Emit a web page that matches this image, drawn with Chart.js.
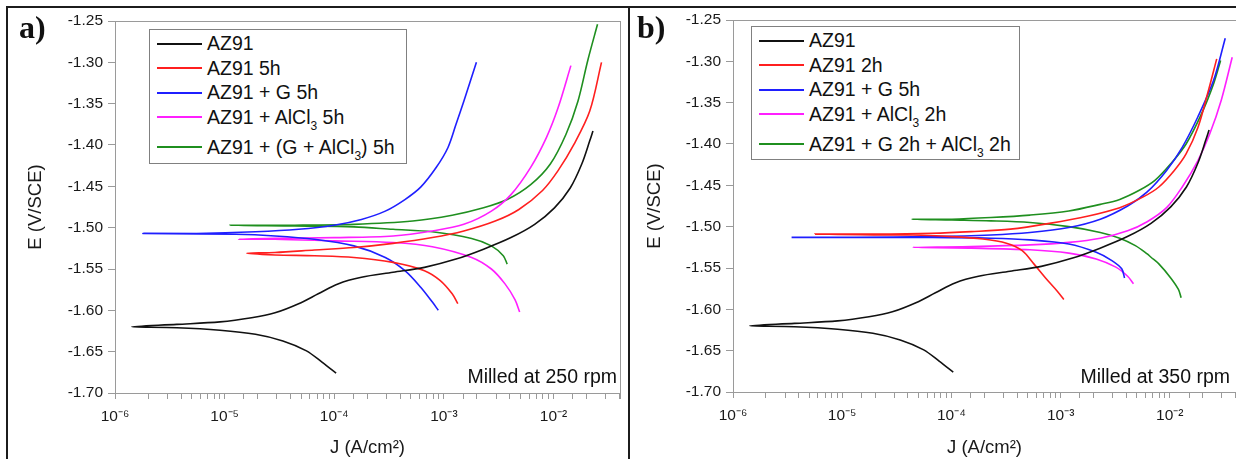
<!DOCTYPE html>
<html>
<head>
<meta charset="utf-8">
<script src="https://cdn.jsdelivr.net/npm/chart.js@4.4.1/dist/chart.umd.min.js"></script>
<style>
  html, body { margin: 0; padding: 0; background: #fff; }
  body { width: 1236px; height: 459px; overflow: hidden; position: relative; font-family: "Liberation Sans", Arial, sans-serif; color: #111; }
  canvas { position: absolute; top: 0; }
  #chartA { left: 0; }
  #chartB { left: 629px; }
  .rule { position: absolute; background: #1c1c1c; z-index: 3; }
  .tag { position: absolute; top: 11px; font: bold 32px "Liberation Serif", "Times New Roman", serif; line-height: 32px; color: #111; z-index: 3; }
  .legend { position: absolute; box-sizing: border-box; border: 1px solid #808080; background: #fff; padding-top: 1px; font-size: 19.5px; z-index: 2; }
  .legend .row { height: 24.5px; line-height: 24.5px; white-space: nowrap; }
  .legend .row.sub3 { height: 30px; }
  .legend .swatch { display: inline-block; width: 45px; height: 0; border-top: 2px solid; vertical-align: middle; margin: 0 5px 0 7px; position: relative; top: -1px; }
  .legend sub { font-size: 12px; line-height: 0; vertical-align: -6px; }
  .note { position: absolute; top: 365px; font-size: 19.5px; white-space: nowrap; z-index: 2; }
</style>
</head>
<body>
<div class="rule" style="left:6px;top:6px;width:1230px;height:2px"></div>
<div class="rule" style="left:6px;top:6px;width:2px;height:453px"></div>
<div class="rule" style="left:628px;top:6px;width:2px;height:453px"></div>
<div class="tag" style="left:19px">a)</div>
<div class="tag" style="left:637px">b)</div>
<div class="legend" id="legendA" style="left:149px;top:29px;width:258px;height:135px"></div>
<div class="legend" id="legendB" style="left:751px;top:26px;width:269px;height:134px"></div>
<div class="note" style="right:619px">Milled at 250 rpm</div>
<div class="note" style="right:6px">Milled at 350 rpm</div>
<canvas id="chartA" width="628" height="459"></canvas>
<canvas id="chartB" width="615" height="459"></canvas>
<script>
// axes
const jMin = 1e-6, jMax = 0.0404;
const eMin = -1.70, eMax = -1.25, eStep = 0.05;
const majorJ = [1e-6, 1e-5, 1e-4, 1e-3, 1e-2];
const xTickLabels = ['10⁻⁶', '10⁻⁵', '10⁻⁴', '10⁻³', '10⁻²'];

const seriesColors = ['#111111', '#ff1f1f', '#1f1fff', '#ff1fff', '#1f8f1f'];
const labelsA = ['AZ91', 'AZ91 5h', 'AZ91 + G 5h', 'AZ91 + AlCl₃ 5h', 'AZ91 + (G + AlCl₃) 5h'];
const labelsB = ['AZ91', 'AZ91 2h', 'AZ91 + G 5h', 'AZ91 + AlCl₃ 2h', 'AZ91 + G 2h + AlCl₃ 2h'];

// each curve: cathodic end -> corrosion point -> anodic end
// AZ91 reference (same in both panels)
const az91J = [1.04e-4, 7.78e-5, 5.58e-5, 3.40e-5, 1.91e-5, 9.08e-6, 3.66e-6, 1.42e-6, 3.66e-6, 9.08e-6, 1.76e-5, 2.88e-5, 4.73e-5, 7.14e-5, 1.08e-4, 1.77e-4, 3.44e-4, 6.65e-4, 1.29e-3, 2.30e-3, 4.09e-3, 6.73e-3, 1.02e-2, 1.42e-2, 1.81e-2, 2.14e-2, 2.29e-2];
const az91E = [-1.676, -1.663, -1.649, -1.637, -1.629, -1.624, -1.621, -1.620, -1.617, -1.614, -1.609, -1.603, -1.592, -1.580, -1.568, -1.560, -1.554, -1.548, -1.538, -1.526, -1.512, -1.496, -1.476, -1.452, -1.423, -1.395, -1.383];

// panel a, 250 rpm
const a5hJ = [1.34e-3, 1.19e-3, 9.27e-4, 6.65e-4, 3.44e-4, 1.51e-4, 6.59e-5, 2.88e-5, 1.59e-5, 2.88e-5, 6.59e-5, 1.51e-4, 3.44e-4, 7.85e-4, 1.52e-3, 2.94e-3, 4.83e-3, 7.94e-3, 1.10e-2, 1.54e-2, 2.14e-2, 2.74e-2];
const a5hE = [-1.592, -1.580, -1.564, -1.552, -1.542, -1.536, -1.534, -1.533, -1.531, -1.530, -1.527, -1.524, -1.519, -1.512, -1.504, -1.492, -1.478, -1.455, -1.431, -1.399, -1.359, -1.300];

const aG5hJ = [8.89e-4, 7.85e-4, 6.14e-4, 4.41e-4, 2.92e-4, 1.51e-4, 6.59e-5, 2.88e-5, 1.26e-5, 1.81e-6, 5.53e-6, 1.91e-5, 4.73e-5, 9.95e-5, 1.77e-4, 2.92e-4, 4.41e-4, 6.14e-4, 8.53e-4, 1.09e-3, 1.29e-3, 1.52e-3, 1.98e-3];
const aG5hE = [-1.600, -1.590, -1.572, -1.552, -1.536, -1.522, -1.514, -1.510, -1.508, -1.507, -1.507, -1.505, -1.502, -1.497, -1.490, -1.480, -1.466, -1.451, -1.427, -1.403, -1.375, -1.347, -1.300];

const aAl5hJ = [4.91e-3, 4.45e-3, 3.61e-3, 2.71e-3, 1.79e-3, 7.85e-4, 3.44e-4, 9.95e-5, 2.88e-5, 1.34e-5, 2.88e-5, 9.95e-5, 3.44e-4, 7.85e-4, 1.52e-3, 2.71e-3, 4.09e-3, 6.19e-3, 8.61e-3, 1.10e-2, 1.44e-2];
const aAl5hE = [-1.602, -1.587, -1.568, -1.550, -1.536, -1.523, -1.518, -1.516, -1.514, -1.514, -1.513, -1.512, -1.510, -1.504, -1.496, -1.480, -1.460, -1.427, -1.391, -1.355, -1.304];

const aGAl5hJ = [3.78e-3, 3.48e-3, 2.71e-3, 1.79e-3, 7.85e-4, 3.44e-4, 1.51e-4, 4.37e-5, 1.12e-5, 4.37e-5, 1.51e-4, 5.20e-4, 1.19e-3, 2.30e-3, 3.78e-3, 6.19e-3, 9.35e-3, 1.30e-2, 1.67e-2, 2.05e-2, 2.52e-2];
const aGAl5hE = [-1.544, -1.534, -1.522, -1.513, -1.505, -1.502, -1.499, -1.498, -1.497, -1.497, -1.496, -1.492, -1.485, -1.476, -1.466, -1.448, -1.423, -1.387, -1.347, -1.298, -1.254];

// panel b, 350 rpm
const b2hJ = [1.07e-3, 9.33e-4, 7.28e-4, 5.69e-4, 4.45e-4, 3.19e-4, 1.95e-4, 1.01e-4, 4.43e-5, 1.94e-5, 5.64e-6, 1.94e-5, 6.68e-5, 1.52e-4, 3.47e-4, 7.91e-4, 1.80e-3, 3.48e-3, 5.71e-3, 7.94e-3, 1.10e-2, 1.41e-2, 1.81e-2, 2.22e-2, 2.69e-2];
const b2hE = [-1.588, -1.578, -1.562, -1.545, -1.529, -1.520, -1.515, -1.512, -1.510, -1.510, -1.509, -1.509, -1.508, -1.506, -1.503, -1.496, -1.487, -1.477, -1.464, -1.452, -1.432, -1.412, -1.380, -1.339, -1.297];

const bG5hJ = [3.85e-3, 3.63e-3, 2.95e-3, 2.12e-3, 1.19e-3, 5.24e-4, 2.30e-4, 6.68e-5, 1.29e-5, 3.44e-6, 1.29e-5, 6.68e-5, 2.30e-4, 5.24e-4, 1.19e-3, 2.31e-3, 4.11e-3, 6.21e-3, 9.35e-3, 1.30e-2, 1.81e-2, 2.52e-2, 3.22e-2];
const bG5hE = [-1.562, -1.551, -1.541, -1.531, -1.521, -1.516, -1.514, -1.513, -1.513, -1.513, -1.513, -1.512, -1.510, -1.507, -1.501, -1.491, -1.475, -1.458, -1.432, -1.404, -1.367, -1.323, -1.272];

const bAl2hJ = [4.65e-3, 4.11e-3, 3.21e-3, 2.12e-3, 1.19e-3, 5.24e-4, 1.52e-4, 4.43e-5, 1.52e-4, 5.24e-4, 1.19e-3, 2.31e-3, 4.11e-3, 6.21e-3, 9.35e-3, 1.30e-2, 1.81e-2, 2.32e-2, 2.96e-2, 3.73e-2];
const bAl2hE = [-1.569, -1.560, -1.549, -1.539, -1.532, -1.528, -1.526, -1.525, -1.524, -1.522, -1.519, -1.514, -1.505, -1.494, -1.477, -1.452, -1.420, -1.388, -1.347, -1.295];

const bGAl2hJ = [1.27e-2, 1.20e-2, 1.02e-2, 7.94e-3, 6.73e-3, 6.21e-3, 4.84e-3, 3.48e-3, 2.31e-3, 1.19e-3, 5.24e-4, 2.30e-4, 1.01e-4, 4.36e-5, 1.01e-4, 2.30e-4, 5.24e-4, 1.19e-3, 2.31e-3, 3.48e-3, 5.26e-3, 7.31e-3, 1.02e-2, 1.41e-2, 1.96e-2, 2.52e-2, 2.92e-2];
const bGAl2hE = [-1.586, -1.576, -1.562, -1.545, -1.537, -1.533, -1.523, -1.514, -1.507, -1.500, -1.495, -1.493, -1.492, -1.491, -1.491, -1.489, -1.486, -1.481, -1.473, -1.467, -1.456, -1.444, -1.424, -1.400, -1.363, -1.327, -1.299];

const axisGray = '#9a9a9a';
const textColor = '#1a1a1a';

// gray box round the plot area
const plotBox = {
  id: 'plotBox',
  beforeDatasetsDraw(chart) {
    const { ctx, chartArea: a } = chart;
    ctx.save();
    ctx.strokeStyle = axisGray;
    ctx.lineWidth = 1;
    ctx.strokeRect(a.left + 0.5, a.top + 0.5, a.right - a.left, a.bottom - a.top);
    ctx.restore();
  }
};

function toPoints(J, E) {
  return J.map((j, i) => ({ x: j, y: E[i] }));
}

function buildLegend(id, labels) {
  const el = document.getElementById(id);
  el.innerHTML = labels.map((l, i) => {
    const hasSub = l.includes('₃');
    return '<div class="row' + (hasSub ? ' sub3' : '') + '"><span class="swatch" style="border-color:' +
      seriesColors[i] + '"></span>' + l.replace(/₃/g, '<sub>3</sub>') + '</div>';
  }).join('');
}

function makeChart(id, labels, series, box) {
  const ctx = document.getElementById(id).getContext('2d');
  return new Chart(ctx, {
    type: 'scatter',
    data: {
      datasets: series.map((s, i) => ({
        label: labels[i],
        data: toPoints(s[0], s[1]),
        showLine: true,
        borderColor: seriesColors[i],
        backgroundColor: seriesColors[i],
        borderWidth: 1.6,
        pointRadius: 0,
        tension: 0.32
      }))
    },
    options: {
      responsive: false,
      animation: false,
      devicePixelRatio: 1,
      events: [],
      layout: { padding: { left: 0, top: box.top, right: box.right, bottom: 0 } },
      plugins: { legend: { display: false }, tooltip: { enabled: false } },
      scales: {
        x: {
          type: 'logarithmic',
          min: jMin,
          max: jMax,
          afterFit: (s) => { s.height = box.xHeight; },
          border: { display: true, color: axisGray },
          grid: { drawOnChartArea: false, drawTicks: true, tickLength: 6, color: axisGray },
          ticks: {
            autoSkip: false, maxRotation: 0, minRotation: 0, padding: 8,
            color: textColor, font: { size: 15.5, family: '"Liberation Sans", Arial' },
            callback: (v) => {
              const k = majorJ.findIndex(m => Math.abs(Math.log10(v / m)) < 1e-6);
              return k >= 0 ? xTickLabels[k] : '';
            }
          },
          title: {
            display: true, text: 'J (A/cm²)', color: textColor,
            font: { size: 18.5, family: '"Liberation Sans", Arial' },
            padding: { top: 0, bottom: 0 }
          }
        },
        y: {
          type: 'linear',
          min: eMin,
          max: eMax,
          afterFit: (s) => { s.width = box.yWidth; },
          border: { display: true, color: axisGray },
          grid: { drawOnChartArea: false, drawTicks: true, tickLength: 7, color: axisGray },
          ticks: {
            stepSize: eStep, padding: 5, color: textColor,
            font: { size: 15.5, family: '"Liberation Sans", Arial' },
            callback: (v) => v.toFixed(2)
          },
          title: {
            display: true, text: 'E (V/SCE)', color: textColor,
            font: { size: 18.5, family: '"Liberation Sans", Arial' },
            padding: { top: box.yTitlePad, bottom: 0 }
          }
        }
      }
    },
    plugins: [plotBox]
  });
}

buildLegend('legendA', labelsA);
buildLegend('legendB', labelsB);

makeChart('chartA', labelsA,
  [[az91J, az91E], [a5hJ, a5hE], [aG5hJ, aG5hE], [aAl5hJ, aAl5hE], [aGAl5hJ, aGAl5hE]],
  { top: 21, right: 4, xHeight: 66, yWidth: 115, yTitlePad: 25 });

makeChart('chartB', labelsB,
  [[az91J, az91E], [b2hJ, b2hE], [bG5hJ, bG5hE], [bAl2hJ, bAl2hE], [bGAl2hJ, bGAl2hE]],
  { top: 20, right: 6, xHeight: 67, yWidth: 104, yTitlePad: 15 });
</script>
</body>
</html>
